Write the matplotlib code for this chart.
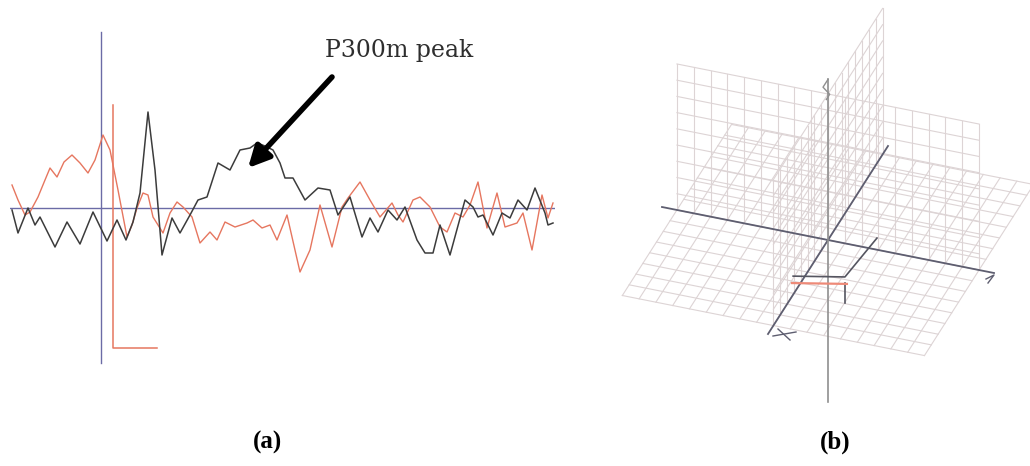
import numpy as np
import matplotlib.pyplot as plt
from matplotlib.patches import FancyArrowPatch

# ---- panel (a): evoked field traces, time in ms, amplitude in fT ----
black_t = [-178, -166, -146, -132, -122, -92, -68, -42, -16, 12, 32, 50, 64, 78, 94,
           108, 122, 142, 158, 178, 194, 212, 234, 258, 278, 298, 312, 328, 344, 358,
           368, 384, 408, 434, 458, 474, 498, 522, 538, 554, 574, 592, 608, 632, 648,
           664, 678, 698, 728, 744, 754, 764, 784, 802, 818, 834, 852, 868, 888, 894, 904]
black_amp = [-2, -25, 0, -17, -9, -39, -14, -36, -4, -33, -12, -32, -14, 15, 96,
             38, -47, -10, -25, -7, 8, 11, 45, 38, 58, 60, 65, 62, 58, 45,
             30, 30, 8, 20, 18, -7, 11, -29, -10, -24, -2, -12, 1, -32, -45,
             -45, -17, -47, 8, 1, -9, -7, -27, -5, -10, 8, -2, 20, -5, -17, -15]

red_t = [-178, -166, -152, -142, -126, -112, -102, -88, -74, -58, -42, -26, -12, 4, 18,
         34, 52, 62, 72, 84, 94, 104, 124, 138, 152, 164, 182, 198, 218, 232,
         248, 268, 292, 304, 322, 338, 352, 372, 398, 418, 438, 462, 482, 494, 518,
         538, 558, 582, 594, 604, 624, 638, 658, 678, 692, 708, 724, 738, 754, 772,
         792, 808, 832, 844, 862, 882, 894, 904]
red_amp = [23, 8, -7, -4, 11, 28, 40, 31, 46, 53, 45, 35, 48, 73, 58,
           18, -29, -17, 0, 15, 13, -9, -25, -5, 6, 1, -9, -35, -24, -32,
           -14, -19, -15, -12, -20, -17, -32, -7, -64, -42, 3, -39, 1, 10, 26,
           8, -9, 5, -7, -14, 8, 11, 1, -19, -24, -5, -9, 3, 26, -20,
           15, -19, -15, -5, -42, 13, -10, 5]

onset_axis = [176, -155]          # vertical extent of the t=0 line
scale_bar_t = [24, 24, 112]
scale_bar_amp = [103, -140, -140]

# ---- panel (b): grid planes of the source space ----
plane_x = (-0.91, 0.91)
plane_y = (-0.91, 0.91)
plane_z = (0.0, 1.0)
n_x, n_y, n_z = 18, 16, 9

# screen projection of the 3D frame (pixels per unit)
origin = np.array([828.0, 240.0])
ex = np.array([166.0, 33.0])
ey = np.array([60.0, -94.0])
ez = np.array([0.0, -146.0])


def proj(x, y, z):
    x, y, z = np.broadcast_arrays(np.asarray(x, float), np.asarray(y, float), np.asarray(z, float))
    pts = origin + x[..., None] * ex + y[..., None] * ey + z[..., None] * ez
    return pts[..., 0], pts[..., 1]


fig = plt.figure(figsize=(10.3, 4.66), dpi=100)

ax = fig.add_axes([10 / 1030, 1 - 365 / 466, 545 / 1030, 335 / 466])
ax.set_xlim(-182, 908)
ax.set_ylim(-157, 178)
ax.axis('off')

axis_blue = '#6b6ba6'
trace_red = '#e6765f'
ax.axhline(0, color=axis_blue, lw=1.0, zorder=1)
ax.plot([0, 0], onset_axis, color=axis_blue, lw=1.0, zorder=1)
ax.plot(scale_bar_t, scale_bar_amp, color=trace_red, lw=1.1, zorder=1)
ax.plot(red_t, red_amp, color=trace_red, lw=1.0, zorder=2, clip_on=False,
        solid_joinstyle='round')
ax.plot(black_t, black_amp, color='#3c3c3c', lw=1.1, zorder=3, clip_on=False,
        solid_joinstyle='round')

arrow = FancyArrowPatch((462, 131), (294, 40), arrowstyle='-|>', mutation_scale=32,
                        lw=4, color='black', shrinkA=0, shrinkB=0, zorder=5)
ax.add_patch(arrow)
ax.text(596, 151, 'P300m peak', family='DejaVu Serif', fontsize=17,
        color='#2e2e2e', ha='center', va='baseline')

# ---- panel (b) ----
bx = fig.add_axes([600 / 1030, 0, 430 / 1030, 1])
bx.set_xlim(600, 1030)
bx.set_ylim(466, 0)
bx.axis('off')

grid_col = '#ddd4d5'
gx = np.linspace(*plane_x, n_x + 1)
gy = np.linspace(*plane_y, n_y + 1)
gz = np.linspace(*plane_z, n_z + 1)

# horizontal plane z = 0
for v in gx:
    bx.plot(*proj(v, np.array(plane_y), 0), color=grid_col, lw=0.8)
for v in gy:
    bx.plot(*proj(np.array(plane_x), v, 0), color=grid_col, lw=0.8)
# back plane y = 0
for v in gx:
    bx.plot(*proj(v, 0, np.array(plane_z)), color=grid_col, lw=0.8)
for v in gz:
    bx.plot(*proj(np.array(plane_x), 0, v), color=grid_col, lw=0.8)
# side plane x = 0
for v in gy:
    bx.plot(*proj(0, v, np.array(plane_z)), color=grid_col, lw=0.8)
for v in gz:
    bx.plot(*proj(0, np.array(plane_y), v), color=grid_col, lw=0.8)

axis_col = '#5e5e70'
bx.plot(*proj([-1, 1], 0, 0), color=axis_col, lw=1.3)
bx.plot(*proj(0, [-1, 1], 0), color=axis_col, lw=1.3)
bx.plot(*proj(0, 0, [-1.11, 1.1]), color='#8f8f8f', lw=1.2)
# squiggle at top of the vertical axis
bx.plot(*proj([0, -0.03, 0.01, -0.01], 0, [1.1, 1.04, 1.0, 0.96]), color='#8f8f8f', lw=1.0)

# end marks on the axes
ux, uy = proj(1.0, 0, 0)
bx.plot([ux - 8, ux, ux - 6], [uy + 6, uy + 2, uy + 10], color=axis_col, lw=1.0)
vx, vy = proj(0, -1.0, 0)
bx.plot([vx + 5, vx + 28], [vy + 2, vy - 2], color=axis_col, lw=1.0)
bx.plot([vx + 10, vx + 22], [vy - 5, vy + 6], color=axis_col, lw=1.0)

# dipole marker
bx.plot(*proj([0.295, 0.102, -0.21], 0, [0.08, -0.23, -0.295]), color='#555560', lw=1.2)
bx.plot(*proj([0.102, 0.102], 0, [-0.27, -0.41]), color='#555560', lw=1.2)
bx.plot(*proj([-0.217, 0.114], 0, [-0.344, -0.275]), color='#ee8a78', lw=1.6)

fig.text(267 / 1030, 1 - 442 / 466, '(a)', family='Liberation Serif', fontweight='bold',
         fontsize=18, ha='center', va='center')
fig.text(835 / 1030, 1 - 442 / 466, '(b)', family='Liberation Serif', fontweight='bold',
         fontsize=18, ha='center', va='center')

fig.savefig('out.png', dpi=100)
